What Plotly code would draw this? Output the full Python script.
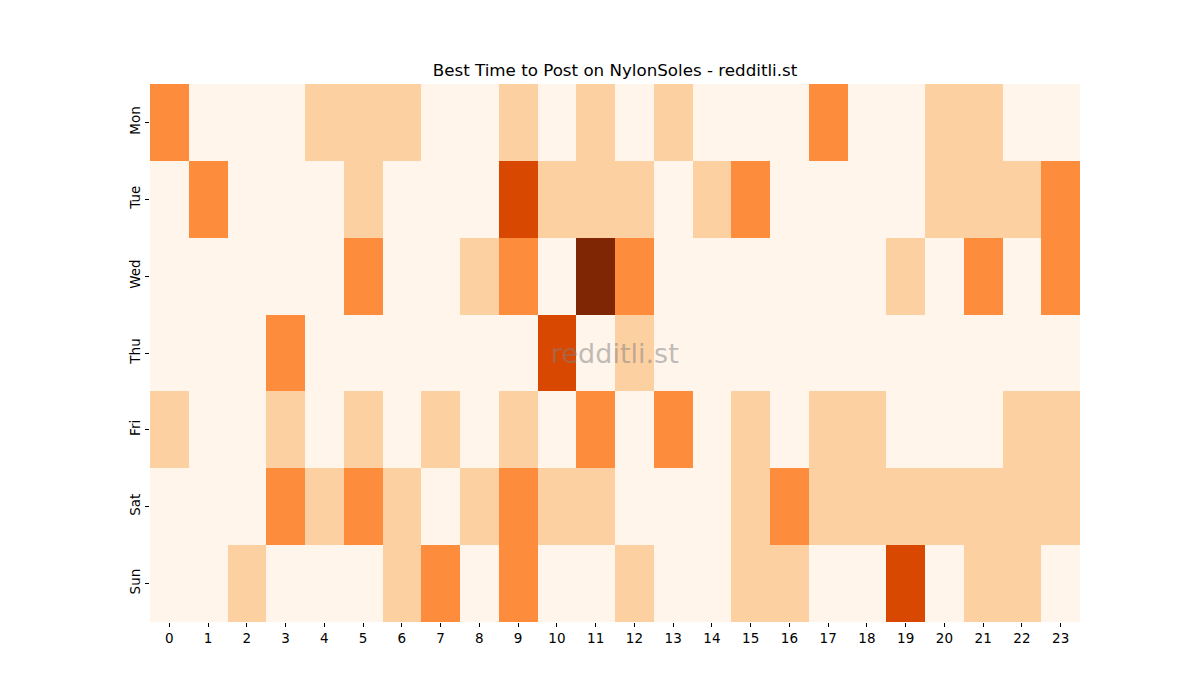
import plotly.graph_objects as go

# Posting activity levels by weekday (rows) and hour (columns)
days = ["Mon", "Tue", "Wed", "Thu", "Fri", "Sat", "Sun"]
hours = list(range(24))

mon = [2, 0, 0, 0, 1, 1, 1, 0, 0, 1, 0, 1, 0, 1, 0, 0, 0, 2, 0, 0, 1, 1, 0, 0]
tue = [0, 2, 0, 0, 0, 1, 0, 0, 0, 3, 1, 1, 1, 0, 1, 2, 0, 0, 0, 0, 1, 1, 1, 2]
wed = [0, 0, 0, 0, 0, 2, 0, 0, 1, 2, 0, 4, 2, 0, 0, 0, 0, 0, 0, 1, 0, 2, 0, 2]
thu = [0, 0, 0, 2, 0, 0, 0, 0, 0, 0, 3, 0, 1, 0, 0, 0, 0, 0, 0, 0, 0, 0, 0, 0]
fri = [1, 0, 0, 1, 0, 1, 0, 1, 0, 1, 0, 2, 0, 2, 0, 1, 0, 1, 1, 0, 0, 0, 1, 1]
sat = [0, 0, 0, 2, 1, 2, 1, 0, 1, 2, 1, 1, 0, 0, 0, 1, 2, 1, 1, 1, 1, 1, 1, 1]
sun = [0, 0, 1, 0, 0, 0, 1, 2, 0, 2, 0, 0, 1, 0, 0, 1, 1, 0, 0, 3, 0, 1, 1, 0]

z = [mon, tue, wed, thu, fri, sat, sun]

# matplotlib "Oranges" sampled at the five levels
oranges = [
    [0.0, "#fff5eb"], [0.125, "#fff5eb"],
    [0.125, "#fdd0a2"], [0.375, "#fdd0a2"],
    [0.375, "#fd8d3c"], [0.625, "#fd8d3c"],
    [0.625, "#d94801"], [0.875, "#d94801"],
    [0.875, "#7f2704"], [1.0, "#7f2704"],
]

fig = go.Figure()
fig.add_trace(go.Heatmap(
    z=z, x=hours, y=days,
    zmin=0, zmax=4,
    colorscale=oranges,
    showscale=False,
    xgap=0, ygap=0,
))

# page body adds an 8px offset, so margins are shifted to compensate
fig.update_layout(
    width=1200, height=700,
    template="plotly_white",
    paper_bgcolor="white", plot_bgcolor="white",
    font=dict(family="DejaVu Sans", size=13.5, color="black"),
    margin={"l": 142, "r": 128, "t": 76, "b": 86, "pad": 0},
    title=dict(text="Best Time to Post on NylonSoles - redditli.st",
               x=607 / 1200, xanchor="center",
               y=1 - 62 / 700, yanchor="middle", yref="container",
               font=dict(size=16.7, color="black")),
    xaxis=dict(tickmode="array", tickvals=hours, ticktext=[str(h) for h in hours],
               ticks="outside", ticklen=4, tickcolor="black",
               showgrid=False, zeroline=False, showline=False,
               range=[-0.5, 23.5]),
    yaxis=dict(autorange="reversed", tickangle=-90,
               ticks="outside", ticklen=4, tickcolor="black",
               showgrid=False, zeroline=False, showline=False),
    annotations=[dict(text="redditli.st", x=0.5, y=0.5, xref="paper", yref="paper",
                      showarrow=False,
                      font=dict(size=27, color="rgba(128,128,128,0.5)", family="DejaVu Sans"))],
)

fig.write_html("out.html")
